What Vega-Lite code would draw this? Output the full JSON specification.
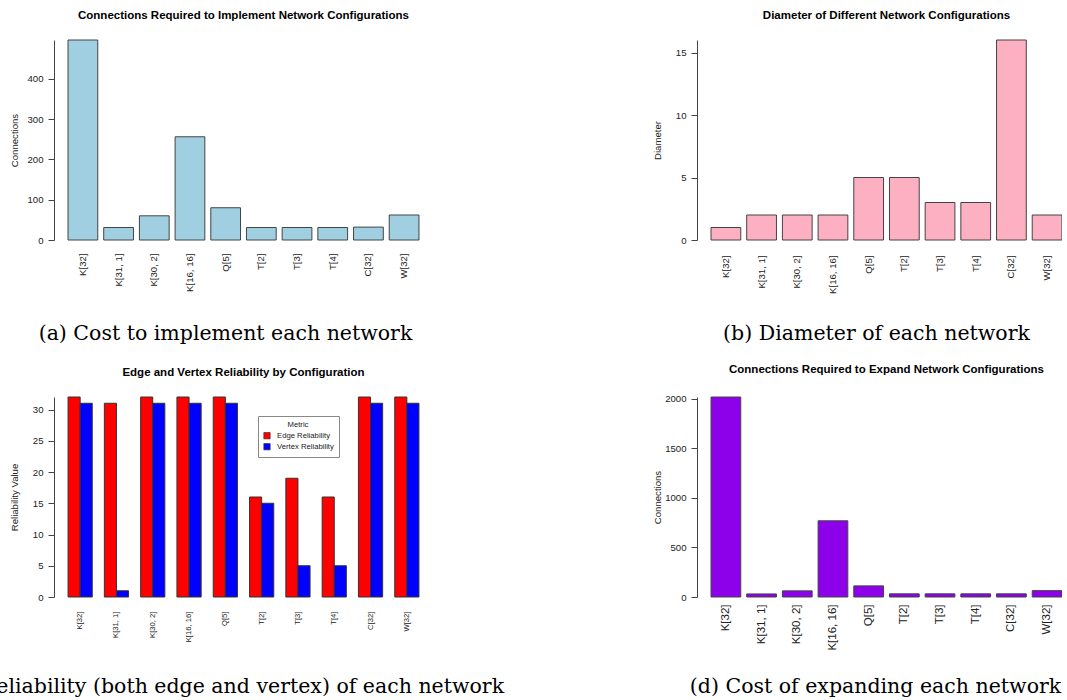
{
  "$schema": "https://vega.github.io/schema/vega-lite/v6.json",
  "autosize": {"type": "pad"},
  "padding": {"left": -54, "top": 10, "right": -14, "bottom": 0},
  "background": "white",
  "bounds": "flush",
  "columns": 2,
  "spacing": {"row": 157, "column": 264},
  "resolve": {"legend": {"color": "independent"}, "scale": {"color": "independent"}},
  "config": {
    "font": "Liberation Sans",
    "view": {"stroke": null},
    "title": {"font": "Liberation Sans", "fontSize": 11.5, "fontWeight": "bold", "color": "black", "offset": 18, "anchor": "middle", "frame": "group"},
    "axisX": {"domain": false, "ticks": false, "grid": false, "labelAngle": 270, "labelAlign": "right", "labelBaseline": "middle", "labelColor": "#222", "labelFont": "Liberation Sans", "titleFont": "DejaVu Serif", "titleFontSize": 20.5, "titleFontWeight": "normal", "titleColor": "black", "titleAlign": "center", "titleBaseline": "alphabetic", "titleAngle": 0},
    "axisY": {"domainColor": "#444", "tickColor": "#444", "tickSize": 6, "labelPadding": 5, "labelFontSize": 9.6, "labelColor": "#222", "labelAngle": 0, "grid": false, "titleFont": "Liberation Sans", "titleFontWeight": "normal", "titleFontSize": 9.6, "titleColor": "#222", "titleX": -40, "titleBaseline": "middle", "titleAngle": 270},
    "legend": {"strokeColor": "#888", "fillColor": "white", "padding": 5, "titleFontSize": 7.7, "titleFontWeight": "normal", "titleColor": "#222", "titleAnchor": "middle", "titlePadding": 3, "labelFontSize": 7.7, "labelColor": "#222", "symbolType": "square", "symbolSize": 40, "symbolStrokeColor": "#333", "symbolStrokeWidth": 0.7, "rowPadding": 1, "labelOffset": 6}
  },
  "datasets": {
    "nets": [
      {"config": "K[32]", "implement": 496, "diameter": 1, "expand": 2016},
      {"config": "K[31, 1]", "implement": 31, "diameter": 2, "expand": 31},
      {"config": "K[30, 2]", "implement": 60, "diameter": 2, "expand": 62},
      {"config": "K[16, 16]", "implement": 256, "diameter": 2, "expand": 768},
      {"config": "Q[5]", "implement": 80, "diameter": 5, "expand": 112},
      {"config": "T[2]", "implement": 31, "diameter": 5, "expand": 32},
      {"config": "T[3]", "implement": 31, "diameter": 3, "expand": 32},
      {"config": "T[4]", "implement": 31, "diameter": 3, "expand": 32},
      {"config": "C[32]", "implement": 32, "diameter": 16, "expand": 32},
      {"config": "W[32]", "implement": 62, "diameter": 2, "expand": 64}
    ],
    "rel": [
      {"config": "K[32]", "metric": "Edge Reliability", "value": 32},
      {"config": "K[32]", "metric": "Vertex Reliability", "value": 31},
      {"config": "K[31, 1]", "metric": "Edge Reliability", "value": 31},
      {"config": "K[31, 1]", "metric": "Vertex Reliability", "value": 1},
      {"config": "K[30, 2]", "metric": "Edge Reliability", "value": 32},
      {"config": "K[30, 2]", "metric": "Vertex Reliability", "value": 31},
      {"config": "K[16, 16]", "metric": "Edge Reliability", "value": 32},
      {"config": "K[16, 16]", "metric": "Vertex Reliability", "value": 31},
      {"config": "Q[5]", "metric": "Edge Reliability", "value": 32},
      {"config": "Q[5]", "metric": "Vertex Reliability", "value": 31},
      {"config": "T[2]", "metric": "Edge Reliability", "value": 16},
      {"config": "T[2]", "metric": "Vertex Reliability", "value": 15},
      {"config": "T[3]", "metric": "Edge Reliability", "value": 19},
      {"config": "T[3]", "metric": "Vertex Reliability", "value": 5},
      {"config": "T[4]", "metric": "Edge Reliability", "value": 16},
      {"config": "T[4]", "metric": "Vertex Reliability", "value": 5},
      {"config": "C[32]", "metric": "Edge Reliability", "value": 32},
      {"config": "C[32]", "metric": "Vertex Reliability", "value": 31},
      {"config": "W[32]", "metric": "Edge Reliability", "value": 32},
      {"config": "W[32]", "metric": "Vertex Reliability", "value": 31}
    ]
  },
  "concat": [
    {
      "title": "Connections Required to Implement Network Configurations",
      "width": 379, "height": 200,
      "data": {"name": "nets"},
      "mark": {"type": "bar", "fill": "#9FCFE0", "stroke": "#444", "strokeWidth": 1},
      "encoding": {
        "x": {"field": "config", "type": "nominal", "sort": null, "scale": {"paddingInner": 0.1667, "paddingOuter": 0.393},
              "axis": {"title": "(a) Cost to implement each network", "titleX": 171, "titleY": 99, "labelPadding": 13, "labelFontSize": 9.6}},
        "y": {"field": "implement", "type": "quantitative", "scale": {"domain": [0, 496], "nice": false},
              "axis": {"title": "Connections", "values": [0, 100, 200, 300, 400]}}
      }
    },
    {
      "title": "Diameter of Different Network Configurations",
      "width": 379, "height": 200,
      "data": {"name": "nets"},
      "mark": {"type": "bar", "fill": "#FCB0C2", "stroke": "#444", "strokeWidth": 1},
      "encoding": {
        "x": {"field": "config", "type": "nominal", "sort": null, "scale": {"paddingInner": 0.1667, "paddingOuter": 0.393},
              "axis": {"title": "(b) Diameter of each network", "titleX": 179, "titleY": 99, "labelPadding": 15, "labelFontSize": 9.6}},
        "y": {"field": "diameter", "type": "quantitative", "scale": {"domain": [0, 16], "nice": false},
              "axis": {"title": "Diameter", "values": [0, 5, 10, 15]}}
      }
    },
    {
      "title": "Edge and Vertex Reliability by Configuration",
      "width": 379, "height": 200,
      "data": {"name": "rel"},
      "mark": {"type": "bar", "stroke": "#333", "strokeWidth": 1},
      "encoding": {
        "x": {"field": "config", "type": "nominal", "sort": null, "scale": {"paddingInner": 0.3333, "paddingOuter": 0.387},
              "axis": {"title": "(c) Reliability (both edge and vertex) of each network", "titleX": 171, "titleY": 95, "labelPadding": 14, "labelFontSize": 7.7}},
        "xOffset": {"field": "metric", "type": "nominal", "scale": {"paddingInner": 0, "paddingOuter": 0}},
        "y": {"field": "value", "type": "quantitative", "scale": {"domain": [0, 32], "nice": false},
              "axis": {"title": "Reliability Value", "values": [0, 5, 10, 15, 20, 25, 30]}},
        "color": {"field": "metric", "type": "nominal",
                  "scale": {"domain": ["Edge Reliability", "Vertex Reliability"], "range": ["#FF0000", "#0000FF"]},
                  "legend": {"title": "Metric", "orient": "none", "legendX": 204, "legendY": 19}}
      }
    },
    {
      "title": "Connections Required to Expand Network Configurations",
      "width": 379, "height": 200,
      "data": {"name": "nets"},
      "mark": {"type": "bar", "fill": "#8D00EA", "stroke": "#444", "strokeWidth": 1},
      "encoding": {
        "x": {"field": "config", "type": "nominal", "sort": null, "scale": {"paddingInner": 0.1667, "paddingOuter": 0.393},
              "axis": {"title": "(d) Cost of expanding each network", "titleX": 178, "titleY": 95, "labelPadding": 7, "labelFontSize": 11.5}},
        "y": {"field": "expand", "type": "quantitative", "scale": {"domain": [0, 2016], "nice": false},
              "axis": {"title": "Connections", "values": [0, 500, 1000, 1500, 2000], "format": "d"}}
      }
    }
  ]
}
